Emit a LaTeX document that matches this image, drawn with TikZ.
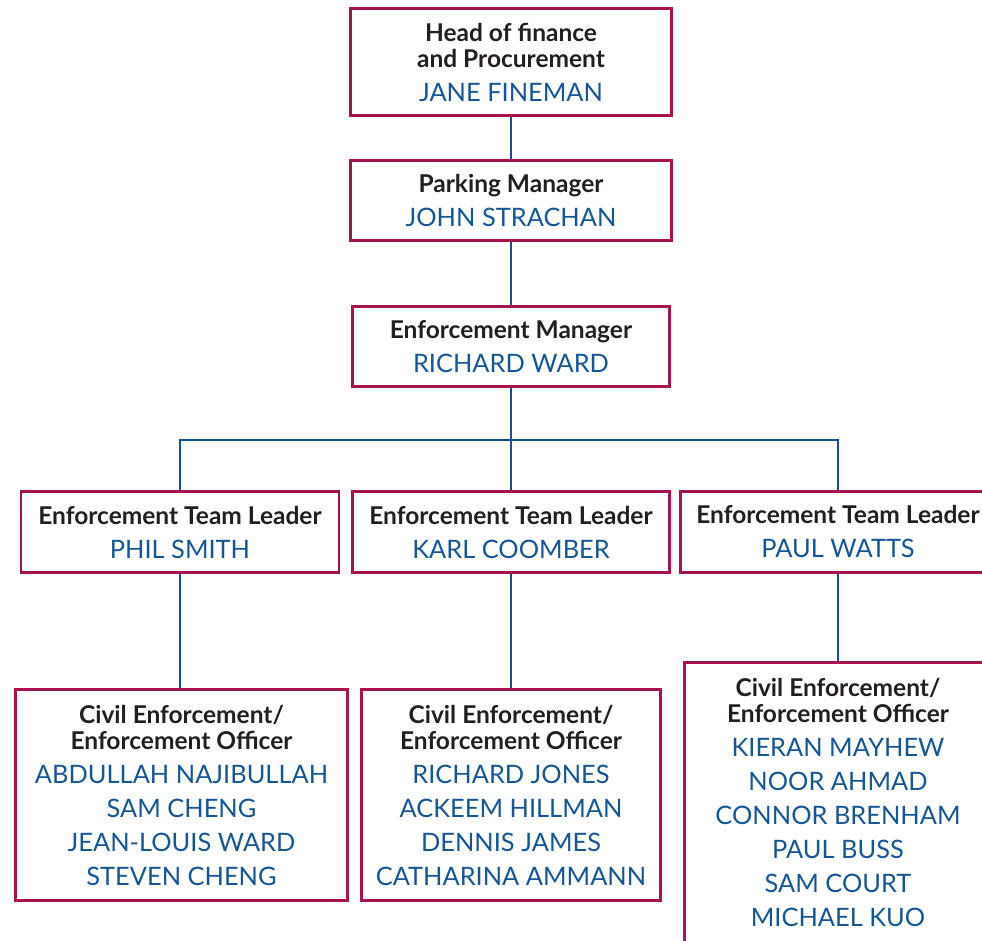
\documentclass[tikz,border=0pt]{standalone}
\usepackage{fontspec}
\setmainfont{Lato}
\definecolor{frame}{RGB}{168,18,78}
\definecolor{nameblue}{RGB}{22,86,150}
\definecolor{linkblue}{RGB}{20,80,150}
\definecolor{ink}{RGB}{35,31,32}
\newcommand\roletitle[1]{{\bfseries\color{ink}\fontsize{24.5}{26}\selectfont #1}}
\begin{document}
\begin{tikzpicture}[x=1pt, y=-1pt,
  post/.style={draw=frame, line width=2.6pt, inner sep=0pt, align=center,
    text=nameblue, font=\fontsize{25.4}{34}\selectfont},
  link/.style={draw=linkblue, line width=1.8pt}]

  \clip (0,0) rectangle (982,941);

  % Head of finance
  \node[post, minimum width=321pt, minimum height=107pt] (head) at (511,62)
    {\roletitle{Head of finance}\\[-8pt]\roletitle{and Procurement}\\JANE FINEMAN};

  % Parking manager
  \node[post, minimum width=321pt, minimum height=80pt] (park) at (511,200.5)
    {\roletitle{Parking Manager}\\JOHN STRACHAN};

  % Enforcement manager
  \node[post, minimum width=317pt, minimum height=80pt] (mgr) at (511,346.5)
    {\roletitle{Enforcement Manager}\\RICHARD WARD};

  % Team leaders
  \node[post, minimum width=318pt, minimum height=81pt] (lead1) at (180,532)
    {\roletitle{Enforcement Team Leader}\\PHIL SMITH};
  \node[post, minimum width=317pt, minimum height=81pt] (lead2) at (511,532)
    {\roletitle{Enforcement Team Leader}\\KARL COOMBER};
  \node[post, minimum width=315pt, minimum height=81pt] (lead3) at (838,532)
    {\roletitle{Enforcement Team Leader}\\PAUL WATTS};

  % Officers
  \node[post, minimum width=332pt, minimum height=211pt] (crew1) at (181.5,795)
    {\roletitle{Civil Enforcement/}\\[-8pt]\roletitle{Enforcement Officer}\\
     ABDULLAH NAJIBULLAH\\SAM CHENG\\JEAN-LOUIS WARD\\STEVEN CHENG};
  \node[post, minimum width=299pt, minimum height=211pt] (crew2) at (511,795)
    {\roletitle{Civil Enforcement/}\\[-8pt]\roletitle{Enforcement Officer}\\
     RICHARD JONES\\ACKEEM HILLMAN\\DENNIS JAMES\\CATHARINA AMMANN};
  \node[post, minimum width=307pt, minimum height=280pt] (crew3) at (838,802.5)
    {\roletitle{Civil Enforcement/}\\[-8pt]\roletitle{Enforcement Officer}\\
     KIERAN MAYHEW\\NOOR AHMAD\\CONNOR BRENHAM\\PAUL BUSS\\SAM COURT\\MICHAEL KUO};

  % Connectors
  \coordinate (bus) at (511,440);
  \draw[link] (head) -- (park);
  \draw[link] (park) -- (mgr);
  \draw[link] (mgr) -- (bus);
  \draw[link] (lead1.north) |- (bus) -| (lead3.north);
  \draw[link] (bus) -- (lead2);
  \draw[link] (lead1) -- (crew1.north -| lead1);
  \draw[link] (lead2) -- (crew2);
  \draw[link] (lead3) -- (crew3);

\end{tikzpicture}
\end{document}
